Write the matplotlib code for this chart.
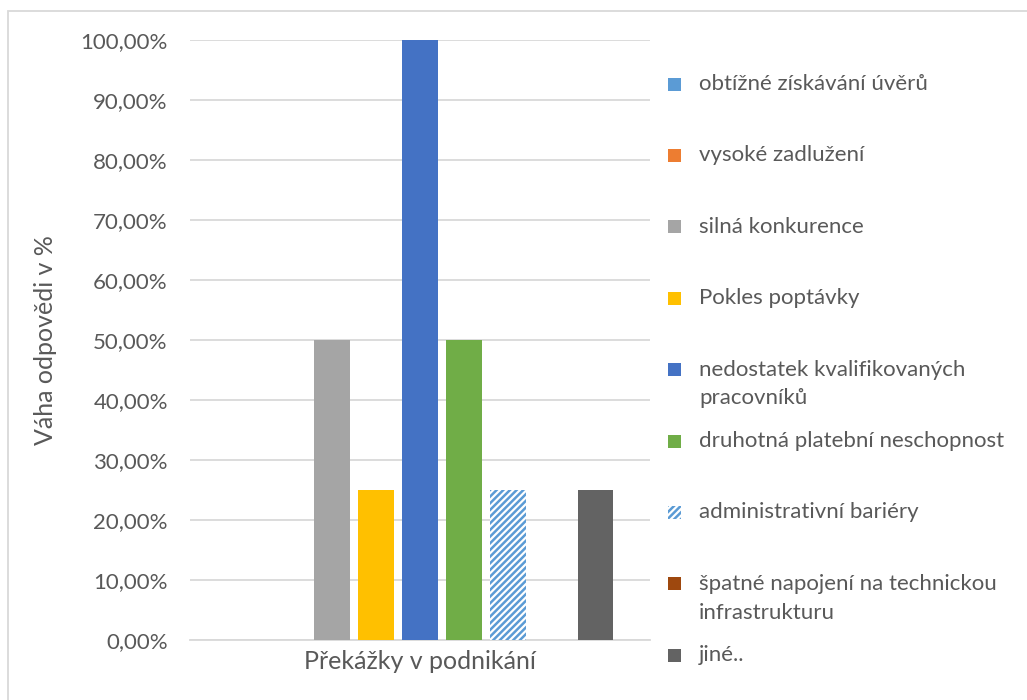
import matplotlib.pyplot as plt
from matplotlib.patches import Rectangle
from matplotlib.ticker import FuncFormatter, MultipleLocator

# data
series = ['obtížné získávání úvěrů', 'vysoké zadlužení', 'silná konkurence',
          'Pokles poptávky', 'nedostatek kvalifikovaných\npracovníků',
          'druhotná platební neschopnost', 'administrativní bariéry',
          'špatné napojení na technickou\ninfrastrukturu', 'jiné..']
values = [0.0, 0.0, 0.50, 0.25, 1.00, 0.50, 0.25, 0.0, 0.25]
colors = ['#5B9BD5', '#ED7D31', '#A5A5A5', '#FFC000', '#4472C4',
          '#70AD47', '#5B9BD5', '#9E480E', '#636363']
hatched = [False, False, False, False, False, False, True, False, False]
category = 'Překážky v podnikání'

txtcol = '#595959'
gridcol = '#D9D9D9'
plt.rcParams['font.family'] = ['Lato', 'DejaVu Sans']
plt.rcParams['hatch.linewidth'] = 1.8

fig = plt.figure(figsize=(10.27, 7.0), dpi=100)
W, H = 1027.0, 700.0
ax = fig.add_axes([190 / W, 1 - 640 / H, 460 / W, 600 / H])

n = len(series)
step = 1.0
bars = []
for i in range(n):
    x = (i - (n - 1) / 2.0) * step
    if hatched[i]:
        b = ax.bar(x, values[i], width=0.8, color='white', edgecolor=colors[i],
                   hatch='/////', linewidth=0, zorder=3)
    else:
        b = ax.bar(x, values[i], width=0.8, color=colors[i], linewidth=0, zorder=3)
    bars.append(b)

ax.set_xlim(-5.23, 5.23)
ax.set_ylim(0, 1.0)
ax.yaxis.set_major_locator(MultipleLocator(0.1))
ax.yaxis.set_major_formatter(FuncFormatter(lambda v, p: ('%.2f%%' % (v * 100)).replace('.', ',')))
ax.set_xticks([0])
ax.set_xticklabels([category])
ax.tick_params(axis='both', length=0, labelcolor=txtcol)
ax.tick_params(axis='y', pad=16, labelsize=16)
ax.tick_params(axis='x', pad=7, labelsize=18)
ax.grid(axis='y', color=gridcol, linewidth=1.3, zorder=0)
ax.set_axisbelow(True)
for s in ['top', 'right', 'left']:
    ax.spines[s].set_visible(False)
ax.spines['bottom'].set_color(gridcol)
ax.spines['bottom'].set_linewidth(1.3)
ax.set_ylabel('Váha odpovědi v %', fontsize=18, color=txtcol, labelpad=17)

# legend drawn by hand so the two-line entries keep the same slot height
y0 = 84
dy = 71.4
for i in range(n):
    yc = y0 + i * dy
    if hatched[i]:
        r = Rectangle((668 / W, 1 - (yc + 6.5) / H), 13 / W, 13 / H, transform=fig.transFigure,
                      facecolor='white', edgecolor=colors[i], hatch='/////', linewidth=0)
    else:
        r = Rectangle((668 / W, 1 - (yc + 6.5) / H), 13 / W, 13 / H, transform=fig.transFigure,
                      facecolor=colors[i], linewidth=0)
    fig.patches.append(r)
    fig.text(699 / W, 1 - (yc - 10) / H, series[i], fontsize=16, color=txtcol,
             va='top', ha='left', linespacing=1.55)

# chart area border
fig.patches.append(Rectangle((8 / W, -0.05), 1.1, 1 - 11 / H + 0.05, transform=fig.transFigure,
                             fill=False, edgecolor=gridcol, linewidth=1.3))

fig.savefig('out.png', dpi=100)
